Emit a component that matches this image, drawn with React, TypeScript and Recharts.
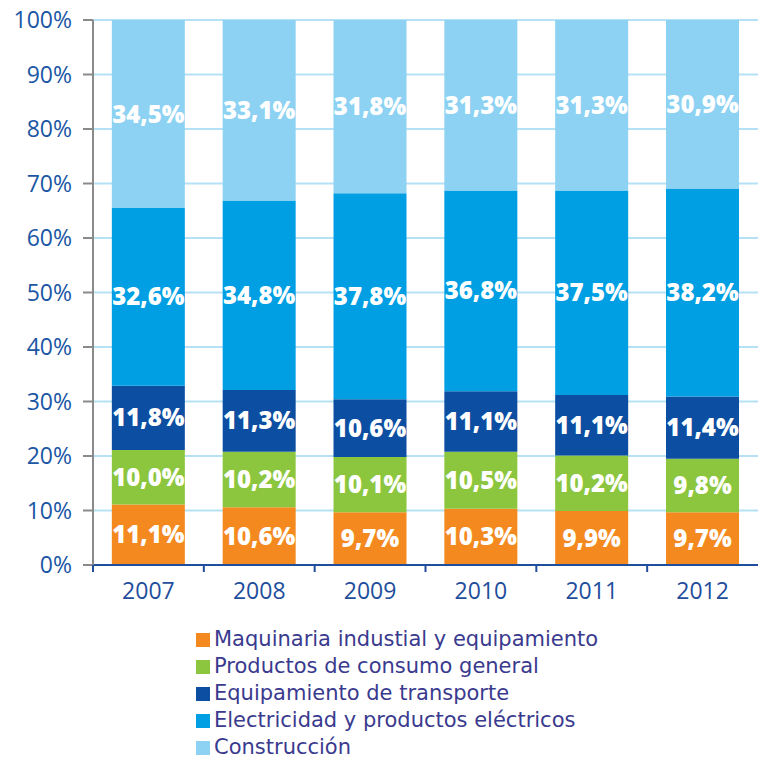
import React from 'react';
import { BarChart, Bar, CartesianGrid, XAxis, YAxis, Legend, LabelList } from 'recharts';

const years = ['2007', '2008', '2009', '2010', '2011', '2012'];
const maquinaria = [11.1, 10.6, 9.7, 10.3, 9.9, 9.7];
const consumo = [10.0, 10.2, 10.1, 10.5, 10.2, 9.8];
const transporte = [11.8, 11.3, 10.6, 11.1, 11.1, 11.4];
const electricidad = [32.6, 34.8, 37.8, 36.8, 37.5, 38.2];
const construccion = [34.5, 33.1, 31.8, 31.3, 31.3, 30.9];
const yTicks = [0, 10, 20, 30, 40, 50, 60, 70, 80, 90, 100];

const series = [
  { key: 'maquinaria', name: 'Maquinaria industial y equipamiento', color: '#f48a1f' },
  { key: 'consumo', name: 'Productos de consumo general', color: '#8cc63e' },
  { key: 'transporte', name: 'Equipamiento de transporte', color: '#0c4ea1' },
  { key: 'electricidad', name: 'Electricidad y productos eléctricos', color: '#009fe3' },
  { key: 'construccion', name: 'Construcción', color: '#8dd2f2' },
];

const data = years.map((year, i) => ({
  year,
  maquinaria: maquinaria[i],
  consumo: consumo[i],
  transporte: transporte[i],
  electricidad: electricidad[i],
  construccion: construccion[i],
}));

const FONT = '"Open Sans", "Noto Sans", sans-serif';
const LEGEND_FONT = '"DejaVu Sans", "Open Sans", sans-serif';
const fmt = (v: any) => Number(v).toFixed(1).replace('.', ',') + '%';

const XTick = (props: any) => {
  const { x, y, payload } = props;
  const half = 665 / 6 / 2;
  return (
    <g>
      <line x1={x - half} x2={x - half} y1={y - 8} y2={y - 1} stroke="#1f4e9c" strokeWidth={2} />
      <text x={x} y={y + 26} textAnchor="middle" fill="#1f4e9c" fontSize={23} fontFamily={FONT}>
        {payload.value}
      </text>
    </g>
  );
};

const LegendContent = () => (
  <div style={{ fontFamily: LEGEND_FONT, fontSize: 21, color: '#3a3a8e', lineHeight: '27px' }}>
    {series.map((s) => (
      <div key={s.key} style={{ display: 'flex', alignItems: 'center', whiteSpace: 'nowrap', height: 27 }}>
        <span style={{ display: 'inline-block', width: 14, height: 14, background: s.color, marginRight: 4 }} />
        {s.name}
      </div>
    ))}
  </div>
);

export default function App() {
  return (
    <div style={{ position: 'absolute', left: 0, top: 0, background: '#fff' }}>
      <BarChart
        width={758}
        height={758}
        data={data}
        barCategoryGap="17%"
        margin={{ top: 20, right: 0, left: 0, bottom: 153 }}
      >
        <CartesianGrid vertical={false} stroke="#b5e1f6" strokeWidth={2} />
        <XAxis
          dataKey="year"
          height={40}
          axisLine={{ stroke: '#1f4e9c', strokeWidth: 2 }}
          tickLine={false}
          tick={<XTick />}
          interval={0}
        />
        <YAxis
          width={93}
          domain={[0, 100]}
          ticks={yTicks}
          tickFormatter={(v: number) => v + '%'}
          axisLine={{ stroke: '#8a8a8a', strokeWidth: 2 }}
          tickLine={{ stroke: '#8a8a8a', strokeWidth: 2 }}
          tickSize={10}
          tickMargin={11}
          tick={{ fill: '#1a56a4', fontSize: 23, fontFamily: FONT }}
        />
        <Legend
          layout="horizontal"
          verticalAlign="middle"
          align="center"
          wrapperStyle={{ top: 626, left: 196, width: 'auto' }}
          content={<LegendContent />}
        />
        {series.map((s) => (
          <Bar key={s.key} dataKey={s.key} name={s.name} stackId="a" fill={s.color} isAnimationActive={false}>
            <LabelList
              dataKey={s.key}
              position="center"
              formatter={fmt}
              fill="#ffffff"
              fontSize={24}
              fontWeight={800}
              fontFamily={FONT}
            />
          </Bar>
        ))}
      </BarChart>
    </div>
  );
}
